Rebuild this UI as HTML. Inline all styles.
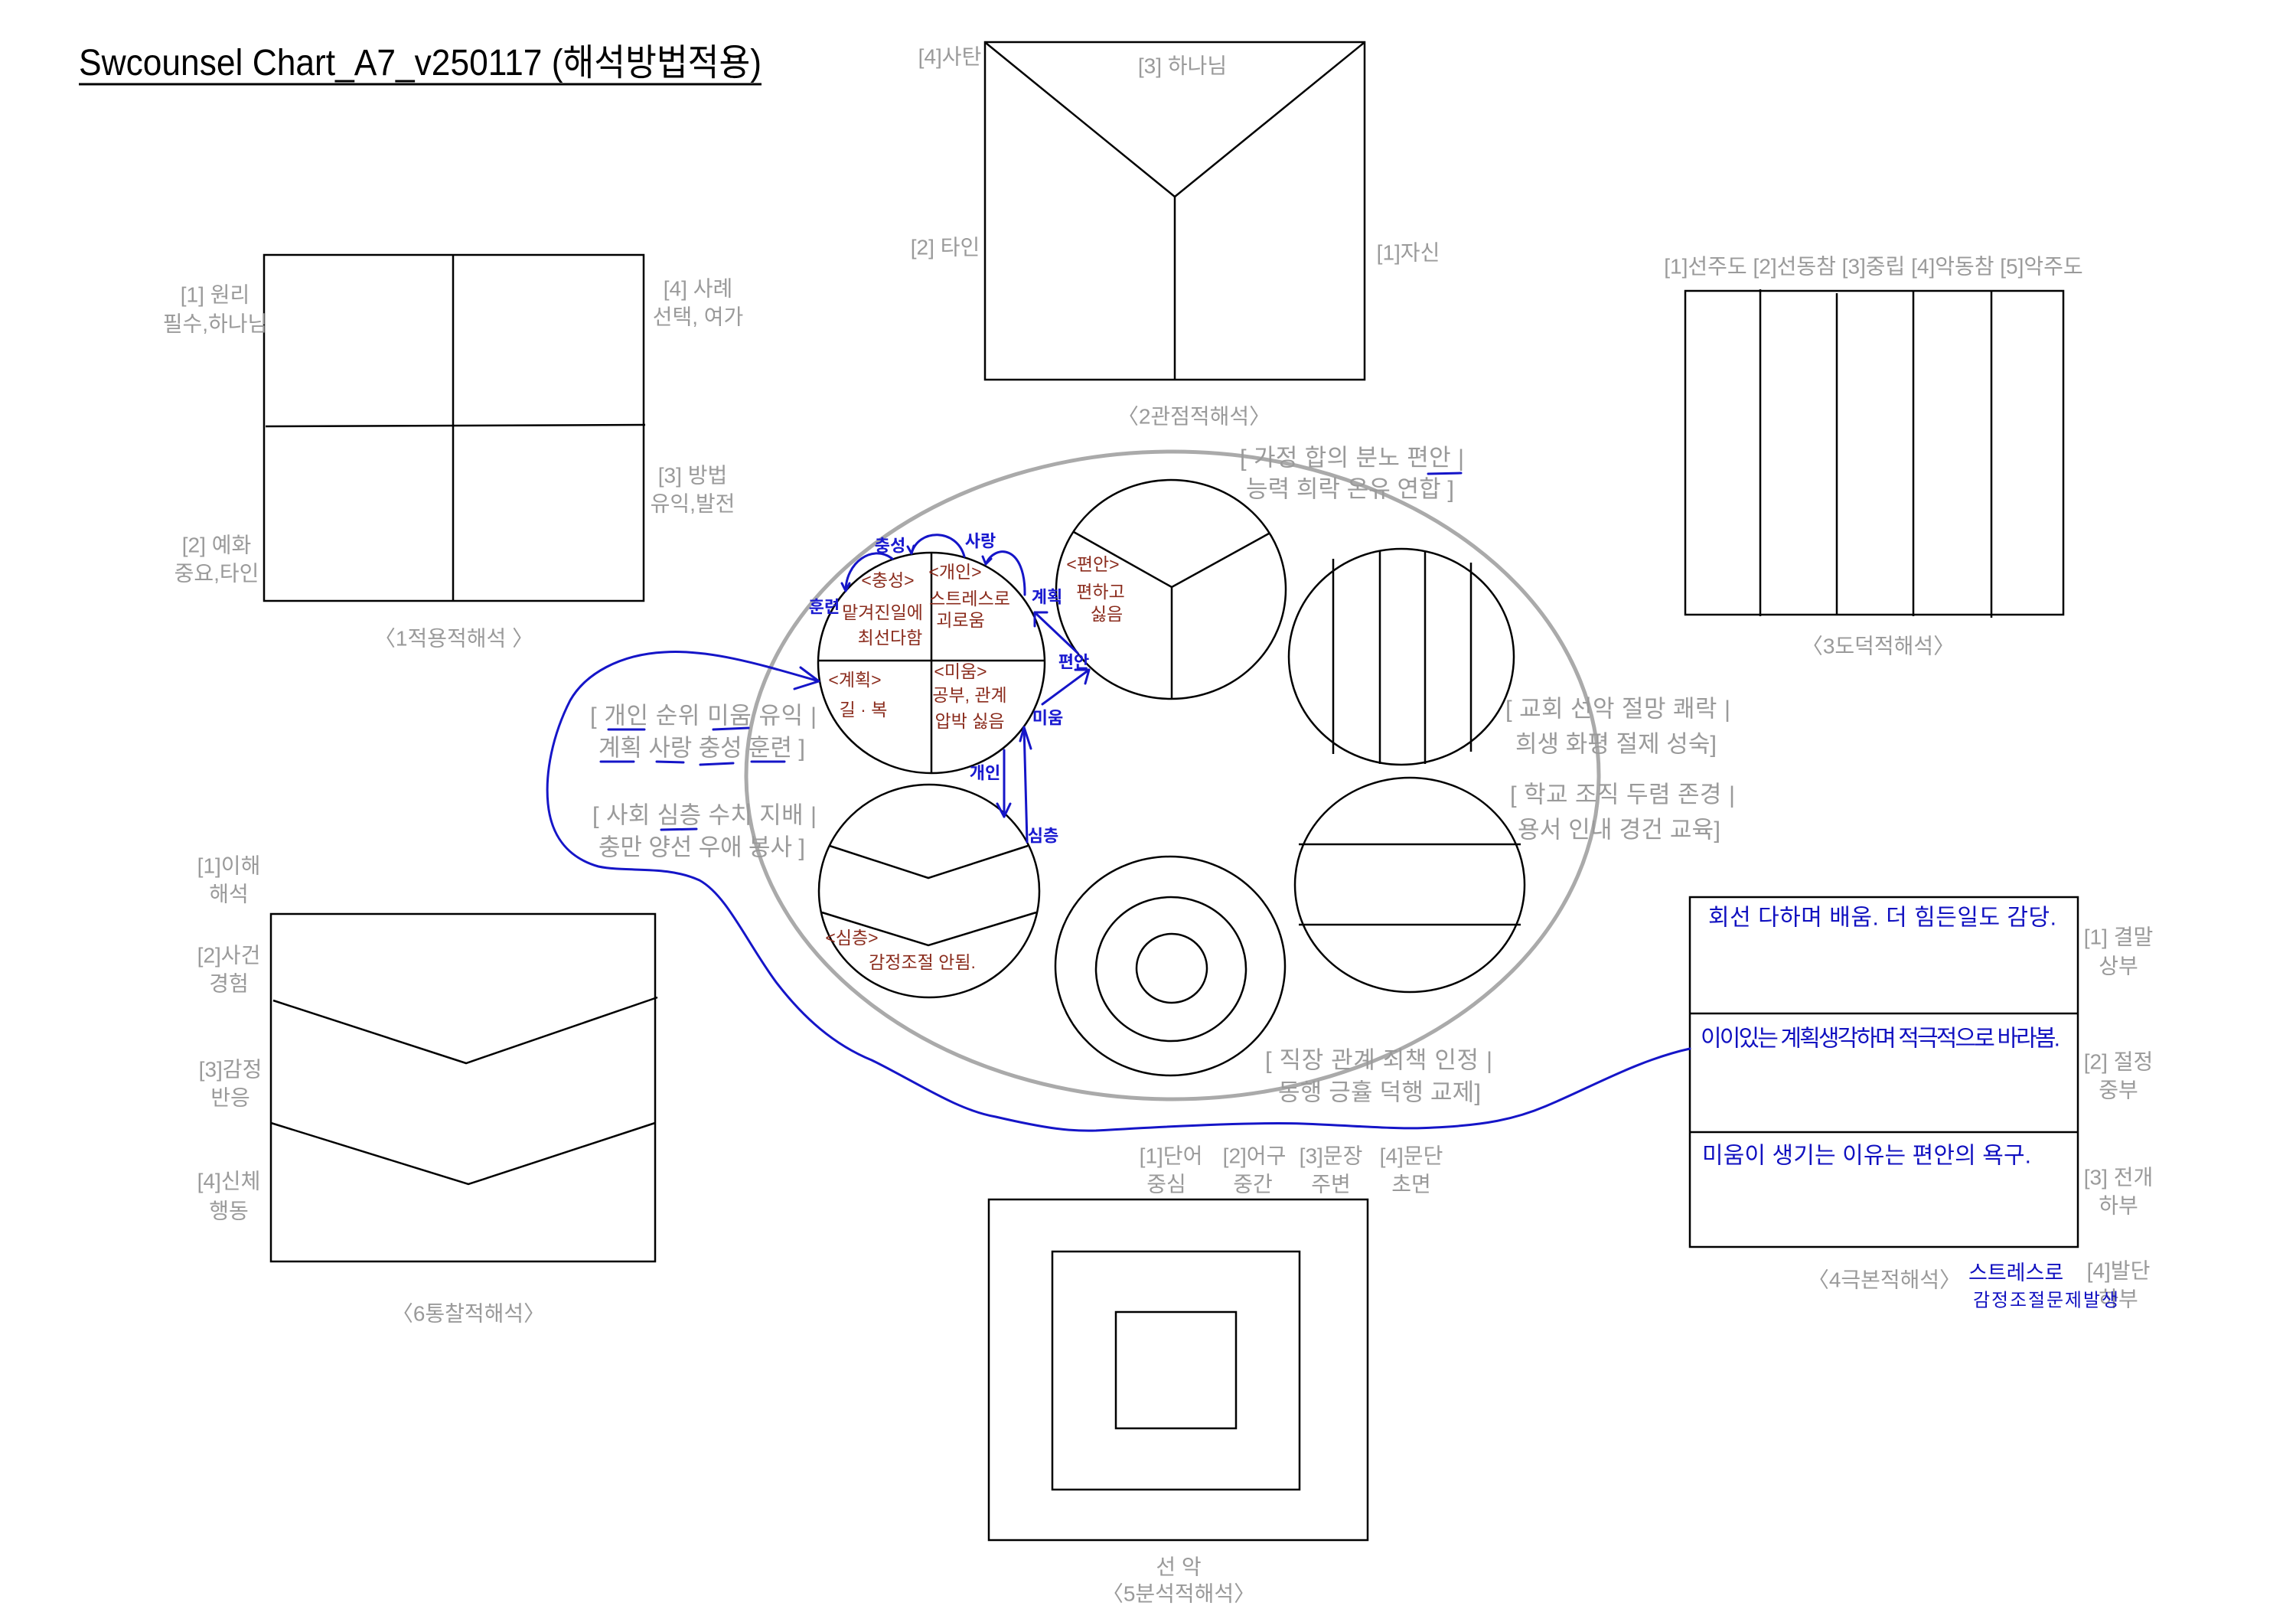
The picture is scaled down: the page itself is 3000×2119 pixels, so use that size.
<!DOCTYPE html>
<html><head><meta charset="utf-8"><style>
html,body{margin:0;padding:0;background:#fff;}
svg{display:block;}
text{font-family:"Liberation Sans","Noto Sans CJK KR",sans-serif;}
.g{fill:#9a9a9a;font-size:28px;}
.c{fill:#9a9a9a;font-size:31px;}
.r{fill:#8a2b1c;font-size:23px;}
.b{fill:#1a1ad0;font-size:22px;font-weight:bold;}
.bh{fill:#1010c0;font-size:30px;}
</style></head><body>
<svg width="3000" height="2119" viewBox="0 0 3000 2119" xmlns="http://www.w3.org/2000/svg">
<g dominant-baseline="central">
<text x="103" y="98" font-size="48" textLength="892" lengthAdjust="spacingAndGlyphs" dominant-baseline="auto" fill="#000">Swcounsel Chart_A7_v250117 (해석방법적용)</text>
<line x1="103" y1="110" x2="995" y2="110" stroke="#000" stroke-width="3"/>

<g fill="none" stroke="#000" stroke-width="2.5">
<rect x="345" y="333" width="496" height="452"/>
<line x1="592" y1="333" x2="592" y2="785"/>
<line x1="347" y1="557" x2="843" y2="555"/>
<rect x="1287" y="55" width="496" height="441"/>
<polyline points="1288,56 1535,257 1782,56"/>
<line x1="1535" y1="257" x2="1535" y2="496"/>
<rect x="2202" y="380" width="494" height="423"/>
<line x1="2300" y1="378" x2="2300" y2="805"/>
<line x1="2400" y1="383" x2="2400" y2="803"/>
<line x1="2500" y1="380" x2="2500" y2="805"/>
<line x1="2602" y1="380" x2="2602" y2="807"/>
<rect x="2208" y="1172" width="507" height="457"/>
<line x1="2208" y1="1324" x2="2715" y2="1324"/>
<line x1="2208" y1="1479" x2="2715" y2="1479"/>
<rect x="1292" y="1567" width="495" height="445"/>
<rect x="1375" y="1635" width="323" height="311"/>
<rect x="1458" y="1714" width="157" height="152"/>
<rect x="354" y="1194" width="502" height="454"/>
<polyline points="357,1307 609,1389 859,1303"/>
<polyline points="354,1467 612,1547 856,1467"/>
</g>

<ellipse cx="1532" cy="1013" rx="557" ry="423" fill="none" stroke="#aaa" stroke-width="5"/>

<g fill="none" stroke="#000" stroke-width="2.5">
<ellipse cx="1217" cy="866" rx="148" ry="144"/>
<line x1="1217" y1="722" x2="1217" y2="1010"/>
<line x1="1069" y1="863" x2="1365" y2="863"/>
<ellipse cx="1530" cy="770" rx="150" ry="143"/>
<polyline points="1403,695 1531,767 1658,697"/>
<line x1="1531" y1="767" x2="1531" y2="913"/>
<ellipse cx="1831" cy="858" rx="147" ry="141"/>
<line x1="1742" y1="730" x2="1742" y2="985"/>
<line x1="1803" y1="720" x2="1803" y2="998"/>
<line x1="1862" y1="720" x2="1862" y2="998"/>
<line x1="1922" y1="735" x2="1922" y2="982"/>
<ellipse cx="1842" cy="1156" rx="150" ry="140"/>
<line x1="1697" y1="1103" x2="1987" y2="1103"/>
<line x1="1697" y1="1208" x2="1987" y2="1208"/>
<ellipse cx="1529" cy="1262" rx="150" ry="143"/>
<ellipse cx="1530" cy="1266" rx="98" ry="94"/>
<ellipse cx="1531" cy="1265" rx="46" ry="45"/>
<ellipse cx="1214" cy="1164" rx="144" ry="139"/>
<polyline points="1084,1105 1213,1147 1343,1105"/>
<polyline points="1074,1192 1213,1235 1354,1192"/>
</g>

<g fill="none" stroke="#1515c8" stroke-width="3" stroke-linecap="round" stroke-linejoin="round">
<path d="M1070,890 C1000,870 930,848 868,852 C810,855 765,880 745,915 C722,960 712,1010 716,1050 C720,1090 740,1120 782,1132 C820,1140 870,1130 914,1150 C950,1170 975,1230 1014,1283 C1050,1330 1090,1365 1139,1385 C1200,1415 1250,1450 1301,1459 C1370,1475 1400,1478 1432,1477 C1550,1470 1650,1466 1702,1468 C1780,1471 1830,1476 1874,1473 C1940,1470 1980,1462 2020,1445 C2080,1420 2140,1385 2208,1370"/>
<polyline points="1038,900 1070,890 1046,872"/>
<line x1="1408" y1="853" x2="1352" y2="800"/>
<polyline points="1352,818 1352,800 1368,800"/>
<line x1="1362" y1="920" x2="1423" y2="875"/>
<polyline points="1405,875 1423,875 1418,893"/>
<line x1="1312" y1="980" x2="1312" y2="1067"/>
<polyline points="1303,1050 1312,1067 1320,1050"/>
<line x1="1342" y1="1100" x2="1338" y2="950"/>
<polyline points="1333,968 1338,950 1347,978"/>
<path d="M1166,730 C1140,710 1105,735 1105,772"/>
<polyline points="1100,762 1105,772 1110,762"/>
<path d="M1191,723 C1200,690 1250,690 1260,727"/>
<polyline points="1186,714 1191,723 1194,713"/>
<path d="M1288,737 C1300,710 1340,712 1339,777"/>
<polyline points="1284,727 1288,737 1295,730"/>
<line x1="795" y1="953" x2="842" y2="953"/>
<line x1="932" y1="953" x2="978" y2="951"/>
<line x1="785" y1="995" x2="828" y2="995"/>
<line x1="858" y1="995" x2="893" y2="996"/>
<line x1="915" y1="999" x2="958" y2="997"/>
<line x1="982" y1="995" x2="1025" y2="995"/>
<line x1="864" y1="1084" x2="910" y2="1083"/>
<line x1="1866" y1="619" x2="1909" y2="618"/>
</g>

<g class="g" text-anchor="middle">
<text x="281" y="385">[1] 원리</text><text x="281" y="423">필수,하나님</text>
<text x="912" y="377">[4] 사례</text><text x="912" y="414">선택, 여가</text>
<text x="905" y="621">[3] 방법</text><text x="905" y="658">유익,발전</text>
<text x="283" y="712">[2] 예화</text><text x="283" y="749">중요,타인</text>
<text x="593" y="834">〈1적용적해석 〉</text>
<text x="1241" y="74">[4]사탄</text>
<text x="1545" y="86">[3] 하나님</text>
<text x="1235" y="323">[2] 타인</text>
<text x="1840" y="330">[1]자신</text>
<text x="1560" y="544">〈2관점적해석〉</text>
<text x="2448" y="348">[1]선주도 [2]선동참 [3]중립 [4]악동참 [5]악주도</text>
<text x="2454" y="844">〈3도덕적해석〉</text>
<text x="2768" y="1224">[1] 결말</text><text x="2768" y="1262">상부</text>
<text x="2768" y="1387">[2] 절정</text><text x="2768" y="1424">중부</text>
<text x="2768" y="1538">[3] 전개</text><text x="2768" y="1575">하부</text>
<text x="2768" y="1660">[4]발단</text><text x="2768" y="1697">하부</text>
<text x="2462" y="1672">〈4극본적해석〉</text>
<text x="1530" y="1510">[1]단어</text><text x="1524" y="1547">중심</text>
<text x="1639" y="1510">[2]어구</text><text x="1637" y="1547">중간</text>
<text x="1739" y="1510">[3]문장</text><text x="1739" y="1547">주변</text>
<text x="1844" y="1510">[4]문단</text><text x="1844" y="1547">초면</text>
<text x="1540" y="2047">선  악</text>
<text x="1540" y="2082">〈5분석적해석〉</text>
<text x="299" y="1131">[1]이해</text><text x="299" y="1168">해석</text>
<text x="299" y="1248">[2]사건</text><text x="299" y="1285">경험</text>
<text x="301" y="1397">[3]감정</text><text x="301" y="1434">반응</text>
<text x="299" y="1543">[4]신체</text><text x="299" y="1582">행동</text>
<text x="612" y="1716">〈6통찰적해석〉</text>
</g>

<g class="c">
<text x="771" y="935" textLength="296">[ 개인 순위 미움 유익 |</text>
<text x="782" y="977" textLength="270">계획 사랑 충성 훈련 ]</text>
<text x="774" y="1065" textLength="293">[ 사회 심층 수치 지배 |</text>
<text x="782" y="1107" textLength="270">충만 양선 우애 봉사 ]</text>
<text x="1620" y="598" textLength="293">[ 가정 합의 분노 편안 |</text>
<text x="1628" y="639" textLength="272">능력 희락 온유 연합 ]</text>
<text x="1967" y="926" textLength="294">[ 교회 선악 절망 쾌락 |</text>
<text x="1980" y="972" textLength="263">희생 화평 절제 성숙]</text>
<text x="1973" y="1038" textLength="294">[ 학교 조직 두렴 존경 |</text>
<text x="1983" y="1084" textLength="265">용서 인내 경건 교육]</text>
<text x="1653" y="1385" textLength="297">[ 직장 관계 죄책 인정 |</text>
<text x="1670" y="1427" textLength="265">동행 긍휼 덕행 교제]</text>
</g>

<g class="r" text-anchor="middle">
<text x="1160" y="758">&lt;충성&gt;</text>
<text x="1153" y="800">맡겨진일에</text>
<text x="1163" y="833">최선다함</text>
<text x="1248" y="747">&lt;개인&gt;</text>
<text x="1267" y="782">스트레스로</text>
<text x="1255" y="810">괴로움</text>
<text x="1117" y="888">&lt;계획&gt;</text>
<text x="1128" y="927">길 · 복</text>
<text x="1255" y="877">&lt;미움&gt;</text>
<text x="1267" y="908">공부, 관계</text>
<text x="1267" y="942">압박 싫음</text>
<text x="1428" y="737">&lt;편안&gt;</text>
<text x="1438" y="773">편하고</text>
<text x="1446" y="802">싫음</text>
<text x="1113" y="1225">&lt;심층&gt;</text>
<text x="1205" y="1257">감정조절 안됨.</text>
</g>

<g class="b" text-anchor="middle">
<text x="1077" y="793">훈련</text>
<text x="1163" y="713">충성</text>
<text x="1281" y="707">사랑</text>
<text x="1368" y="780">계획</text>
<text x="1403" y="865">편안</text>
<text x="1369" y="938">미움</text>
<text x="1287" y="1010">개인</text>
<text x="1363" y="1092">심층</text>
</g>
<g class="bh">
<text x="2232" y="1199" textLength="455">회선 다하며 배움. 더 힘든일도 감당.</text>
<text x="2222" y="1357" textLength="470">이이있는 계획생각하며 적극적으로 바라봄.</text>
<text x="2224" y="1510" textLength="430">미움이 생기는 이유는 편안의 욕구.</text>
<text x="2572" y="1663" font-size="27">스트레스로</text>
<text x="2578" y="1699" font-size="24" textLength="190">감정조절문제발생</text>
</g>
</g>
</svg>
</body></html>
